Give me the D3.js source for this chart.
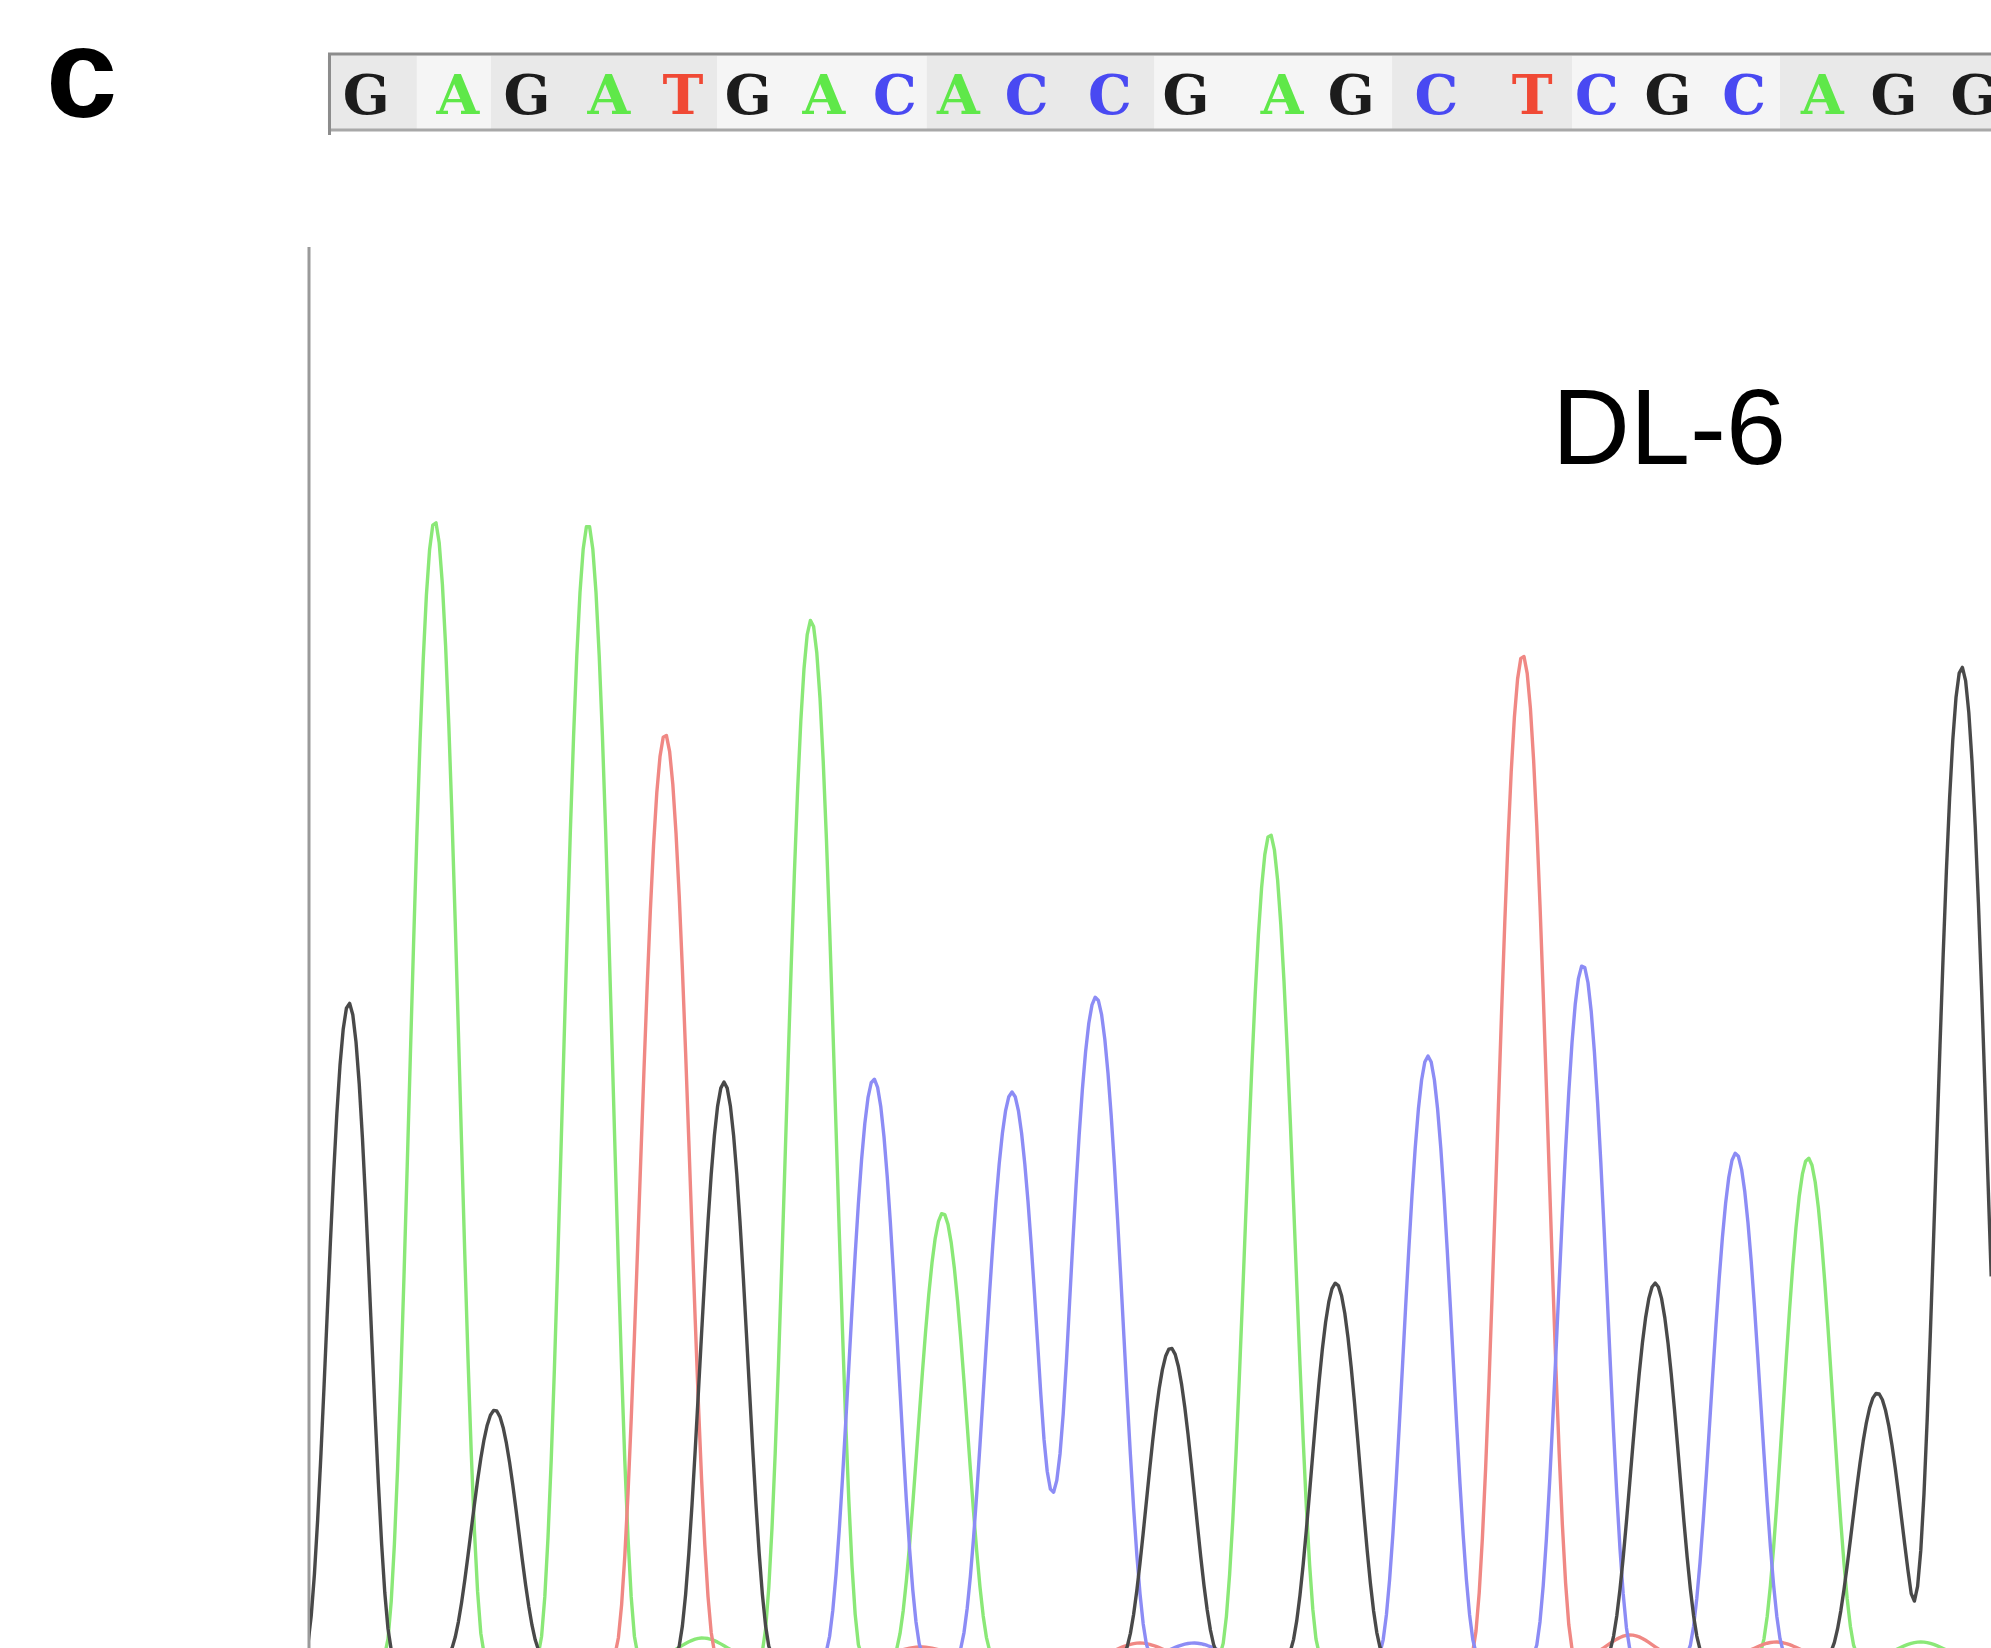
<!DOCTYPE html>
<html>
<head>
<meta charset="utf-8">
<script src="https://cdn.jsdelivr.net/npm/d3@7"></script>
<style>
  body { margin: 0; background: #fff; }
  svg { display: block; }
</style>
</head>
<body>
<svg id="grafiek" width="1991" height="1648"></svg>
<script>
//basen en de plek (in scans) waar de base-call staat
const bases = ["G","A","G","A","T","G","A","C","A","C","C","G","A","G","C","T","C","G","C","A","G","G"];
const callScans = [9.1, 23.4, 34.2, 47.0, 58.6, 68.8, 80.6, 91.7, 101.6, 112.3, 125.3, 137.2, 152.2, 163.0, 176.3, 191.3, 201.4, 212.5, 224.4, 236.6, 247.8, 260.3];

//grenzen van de grijze/lichte vakjes in de sequentiebalk (scans)
const bandGrenzen = [3.1, 17.0, 28.6, 63.9, 96.7, 132.2, 169.4, 197.5, 230.0, 263.0];

//pieken per kanaal: [scan, hoogte, halve breedte]
const piekenA = [[19.8, 2268, 7.9], [43.75, 2262, 7.9], [61.7, 34, 7], [78.6, 2070, 7.9], [99.2, 884, 7.8], [150.3, 1642, 7.9], [234.4, 994, 7.8], [252.0, 26, 7]];
const piekenT = [[55.8, 1842, 8.0], [95.8, 16, 7], [130.0, 24, 7], [189.8, 2000, 8.1], [206.6, 40, 7], [229.4, 26, 7]];
const piekenC = [[88.4, 1152, 7.8], [110.0, 1126, 8.6], [123.1, 1316, 8.6], [138.4, 24, 7], [175.0, 1198, 7.8], [199.2, 1380, 7.8], [223.1, 1004, 7.8]];
const piekenG = [[6.4, 1304, 7.0], [29.2, 490, 7.5], [65.0, 1146, 7.6], [134.8, 614, 7.6], [160.6, 744, 7.6], [210.5, 744, 7.6], [245.2, 524, 7.8], [258.4, 1976, 8.0]];

const kanalen = [
    { naam: "A", pieken: piekenA, kleur: "#8ae877" },
    { naam: "T", pieken: piekenT, kleur: "#f08884" },
    { naam: "C", pieken: piekenC, kleur: "#8c8cf5" },
    { naam: "G", pieken: piekenG, kleur: "#4a4a4a" }
];
const letterKleur = { G: "#1e1e1e", A: "#5ee848", T: "#f04a36", C: "#4a4af2" };

//schalen
const xScale = d3.scaleLinear().domain([0, 263]).range([308, 1991.2]);
const yScale = d3.scaleLinear().domain([0, 2400]).range([1655, 455]);

const svg = d3.select("#grafiek");

//lichte vervaging zoals in de gescande figuur
svg.append("filter").attr("id", "zacht")
    .append("feGaussianBlur").attr("stdDeviation", 0.6);

//paneel letter
svg.append("text")
    .attr("x", 46).attr("y", 117)
    .style("font-family", "'Liberation Sans', Arial, sans-serif")
    .style("font-weight", "bold")
    .style("font-size", "128px")
    .text("c");

//sequentiebalk
const balk = svg.append("g");
balk.append("rect")
    .attr("x", 328).attr("y", 54)
    .attr("width", 1991 - 328).attr("height", 77)
    .attr("fill", "#ececec");

balk.selectAll("rect.band")
    .data(d3.pairs(bandGrenzen))
    .join("rect")
    .attr("class", "band")
    .attr("x", d => xScale(d[0]))
    .attr("width", d => xScale(d[1]) - xScale(d[0]))
    .attr("y", 56).attr("height", 73)
    .attr("fill", (d, i) => i % 2 == 0 ? "#e9e9e9" : "#f5f5f5");

balk.append("line").attr("x1", 328).attr("x2", 1991).attr("y1", 54).attr("y2", 54)
    .attr("stroke", "#8c8c8c").attr("stroke-width", 3);
balk.append("line").attr("x1", 328).attr("x2", 1991).attr("y1", 130).attr("y2", 130)
    .attr("stroke", "#a8a8a8").attr("stroke-width", 3);
balk.append("line").attr("x1", 329.5).attr("x2", 329.5).attr("y1", 53).attr("y2", 135)
    .attr("stroke", "#8c8c8c").attr("stroke-width", 3);

balk.selectAll("text.base")
    .data(bases)
    .join("text")
    .attr("class", "base")
    .attr("x", (d, i) => xScale(callScans[i]))
    .attr("y", 114)
    .attr("text-anchor", "middle")
    .style("font-family", "'DejaVu Serif', 'Courier New', serif")
    .style("font-weight", "bold")
    .style("font-size", "55px")
    .attr("fill", d => letterKleur[d])
    .attr("filter", "url(#zacht)")
    .text(d => d);

//label
svg.append("text")
    .attr("x", 1552).attr("y", 464)
    .style("font-family", "'Liberation Sans', Arial, sans-serif")
    .style("font-size", "108px")
    .text("DL-6");

//y-as lijn
svg.append("line")
    .attr("x1", 309).attr("x2", 309)
    .attr("y1", 247).attr("y2", 1648)
    .attr("stroke", "#9a9a9a").attr("stroke-width", 3);

//clip zodat de sporen niet links van de as komen
svg.append("clipPath").attr("id", "knip")
    .append("rect").attr("x", 310).attr("y", 200).attr("width", 1700).attr("height", 1500);

//signaal op een scan: som van de piekvormen
function signaal(pieken, s) {
    let som = 0;
    for (let i = 0; i < pieken.length; i++) {
        const afstand = Math.abs(s - pieken[i][0]);
        if (afstand < pieken[i][2]) {
            const c = Math.cos(Math.PI * afstand / (2 * pieken[i][2]));
            som += pieken[i][1] * c * c;
        }
    }
    return som;
}

const scans = d3.range(0, 263.01, 0.5);

const lijn = d3.line()
    .x(d => xScale(d[0]))
    .y(d => yScale(d[1]));

svg.append("g")
    .attr("clip-path", "url(#knip)")
    .selectAll("path")
    .data(kanalen)
    .join("path")
    .attr("d", k => lijn(scans.map(s => [s, signaal(k.pieken, s)])))
    .attr("fill", "none")
    .attr("stroke", k => k.kleur)
    .attr("stroke-width", 3.4)
    .attr("stroke-linejoin", "round")
    .attr("filter", "url(#zacht)");
</script>
</body>
</html>
